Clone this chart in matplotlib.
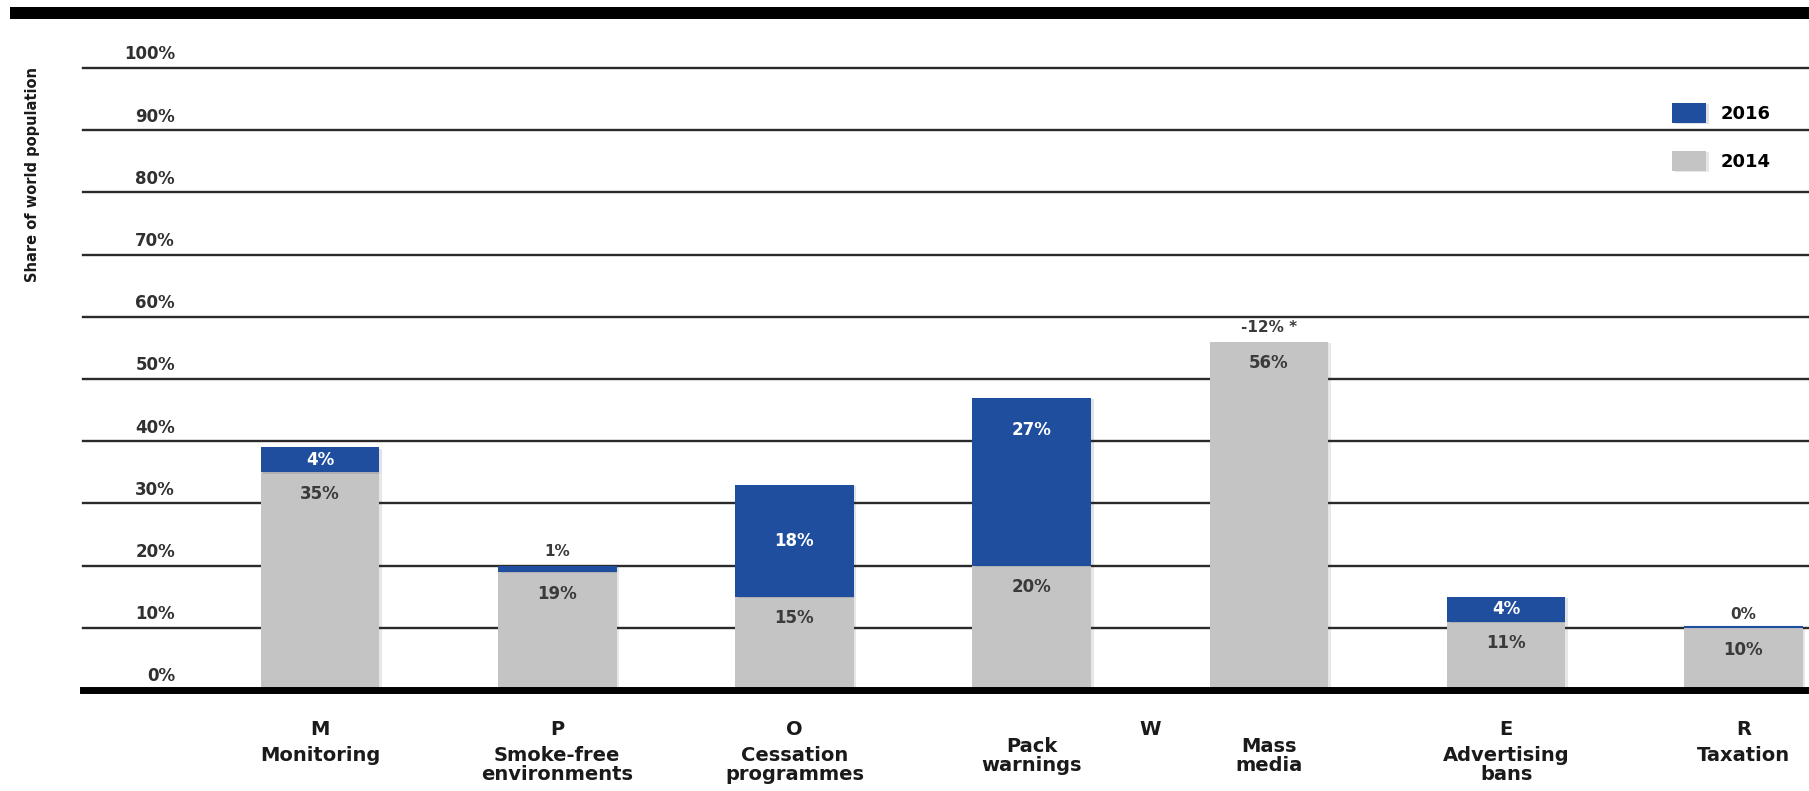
import matplotlib
matplotlib.use("Agg")
import matplotlib.pyplot as plt
import matplotlib.patheffects as pe
from matplotlib.patches import Rectangle
import numpy as np

# MPOWER measures, share of world population covered
letters = ["M", "P", "O", "", "", "E", "R"]
names = ["Monitoring", "Smoke-free\nenvironments", "Cessation\nprogrammes",
         "Pack\nwarnings", "Mass\nmedia", "Advertising\nbans", "Taxation"]
share_2014 = [35, 19, 15, 20, 56, 11, 10]
change_2016 = [4, 1, 18, 27, 0, 4, 0]
change_text = ["4%", "1%", "18%", "27%", "-12% *", "4%", "0%"]
yticks = [0, 10, 20, 30, 40, 50, 60, 70, 80, 90, 100]

BLUE = "#1f4e9f"
GREY = "#c4c4c4"
DARK = "#303030"

fig = plt.figure(figsize=(18.09, 7.91), dpi=100)
ax = fig.add_axes([83 / 1809, 1 - 690 / 791, 1 - 83 / 1809, 622 / 791])

x = np.arange(len(names))
shadow = [pe.SimplePatchShadow(offset=(2, -1), alpha=0.12), pe.Normal()]

b14 = ax.bar(x, share_2014, width=0.5, color=GREY, zorder=2, label="2014")
b16 = ax.bar(x, change_2016, width=0.5, bottom=share_2014, color=BLUE,
             zorder=2, label="2016")
for p in list(b14) + list(b16):
    p.set_path_effects(shadow)

# thin blue cap on bars with no visible change
for i in range(len(x)):
    if change_2016[i] == 0 and change_text[i] == "0%":
        ax.plot([x[i] - 0.25, x[i] + 0.25], [share_2014[i] + 0.2] * 2,
                color=BLUE, lw=1.5, zorder=3, solid_capstyle="butt")

ax.set_xlim(-0.999, 6.277)
ax.set_ylim(0, 100)
ax.tick_params(left=False, bottom=False, labelleft=False, labelbottom=False)
for s in ax.spines.values():
    s.set_visible(False)
for v in yticks[1:]:
    ax.axhline(v, color="#2a2a2a", lw=1.7, zorder=1, clip_on=False)
ax.axhline(0, color="black", lw=5, zorder=4, clip_on=False)

# y tick labels sitting above the grid lines
for v in yticks:
    ax.text(0.0533, v + 2.2, f"{v}%", transform=ax.get_yaxis_transform(),
            ha="right", va="center", fontsize=12, fontweight="bold", color=DARK)

# value labels
for i in range(len(x)):
    top14 = share_2014[i]
    top16 = top14 + change_2016[i]
    ax.text(x[i], top14 - 3.5, f"{share_2014[i]}%", ha="center", va="center",
            fontsize=12, fontweight="bold", color="#3a3a3a", zorder=5)
    if change_2016[i] >= 3:
        yy = top16 - 5.2 if change_2016[i] > 20 else top14 + change_2016[i] / 2
        ax.text(x[i], yy, change_text[i], ha="center", va="center",
                fontsize=12, fontweight="bold", color="white", zorder=5)
    else:
        ax.text(x[i], top16 + 1.0, change_text[i], ha="center", va="bottom",
                fontsize=11, fontweight="bold", color="#3a3a3a", zorder=5)

# category labels
for i in range(len(x)):
    if letters[i]:
        ax.text(x[i], -6.3, letters[i], ha="center", va="center", fontsize=14,
                fontweight="bold", color="#1a1a1a", clip_on=False)
    ytop = -7.6 if names[i] in ("Pack\nwarnings", "Mass\nmedia") else -9.0
    ax.text(x[i], ytop, names[i], ha="center", va="top", fontsize=14,
            fontweight="bold", color="#1a1a1a", linespacing=1.0, clip_on=False)
ax.text((x[3] + x[4]) / 2, -6.3, "W", ha="center", va="center", fontsize=14,
        fontweight="bold", color="#1a1a1a", clip_on=False)

fig.text(0.018, 1 - 175 / 791, "Share of world population", rotation=90,
         ha="center", va="center", fontsize=10.5, fontweight="bold", color="#1a1a1a")

# black band across the top
fig.add_artist(Rectangle((10 / 1809, 1 - 19 / 791), 1, 12 / 791,
                         transform=fig.transFigure, color="black", lw=0))

ax.legend(handles=[b16, b14], labels=["2016", "2014"], loc="upper left",
          bbox_to_anchor=(1672 / 1809, 1 - 103 / 791), bbox_transform=fig.transFigure,
          frameon=False, handlelength=1.9, handleheight=1.3,
          handletextpad=0.8, labelspacing=1.55, borderpad=0, borderaxespad=0,
          prop={"weight": "bold", "size": 13})

fig.savefig("out.png", dpi=100)
